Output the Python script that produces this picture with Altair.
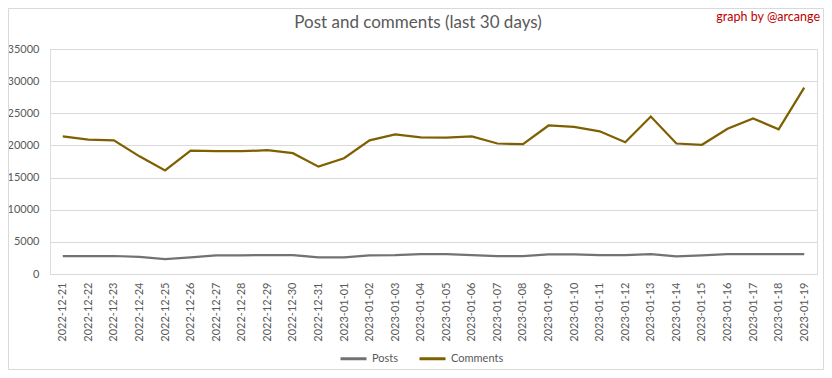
import altair as alt
import pandas as pd

dates = ["2022-12-21", "2022-12-22", "2022-12-23", "2022-12-24", "2022-12-25", "2022-12-26",
         "2022-12-27", "2022-12-28", "2022-12-29", "2022-12-30", "2022-12-31", "2023-01-01",
         "2023-01-02", "2023-01-03", "2023-01-04", "2023-01-05", "2023-01-06", "2023-01-07",
         "2023-01-08", "2023-01-09", "2023-01-10", "2023-01-11", "2023-01-12", "2023-01-13",
         "2023-01-14", "2023-01-15", "2023-01-16", "2023-01-17", "2023-01-18", "2023-01-19"]

posts = [2800, 2800, 2800, 2650, 2300, 2600, 2900, 2900, 2950, 2950, 2600, 2600,
         2900, 2950, 3100, 3100, 2950, 2800, 2800, 3050, 3050, 2950, 2950, 3100,
         2750, 2900, 3100, 3100, 3100, 3100]

comments = [21400, 20900, 20800, 18300, 16100, 19200, 19100, 19100, 19250, 18800, 16700, 18000,
            20800, 21700, 21250, 21200, 21400, 20300, 20200, 23100, 22900, 22200, 20500, 24500,
            20300, 20100, 22600, 24200, 22500, 29000]

series = ["Posts", "Comments"]
colors = ["#767171", "#7f6000"]
y_ticks = [0, 5000, 10000, 15000, 20000, 25000, 30000, 35000]
title_text = "Post and comments (last 30 days)"
credit_text = "graph by @arcange"

rows = []
for d, p, c in zip(dates, posts, comments):
    rows.append({"date": d, "series": "Posts", "value": p})
    rows.append({"date": d, "series": "Comments", "value": c})
df = pd.DataFrame(rows)

FONT = "Lato, sans-serif"
TXT = "#595959"

W, H = 767, 225
PL, PT = 42, 41

lines = alt.Chart(df).mark_line(strokeWidth=2.25).encode(
    x=alt.X("date:O", sort=dates, title=None,
            axis=alt.Axis(labelAngle=270, labelAlign="right", labelBaseline="middle",
                          labelPadding=8, ticks=False, domain=False, grid=False,
                          labelFont=FONT, labelFontSize=11, labelColor=TXT)),
    y=alt.Y("value:Q", title=None, scale=alt.Scale(domain=[0, 35000], nice=False),
            axis=alt.Axis(values=y_ticks, format="d", ticks=False, domain=False,
                          labelPadding=11, labelFont=FONT, labelFontSize=11, labelColor=TXT,
                          gridColor="#d9d9d9", gridWidth=1)),
    color=alt.Color("series:N", sort=series,
                    scale=alt.Scale(domain=series, range=colors),
                    legend=alt.Legend(title=None, orient="none", direction="horizontal",
                                      legendX=289, legendY=295,
                                      symbolType="stroke", symbolSize=676,
                                      symbolStrokeWidth=3, labelFont=FONT, labelFontSize=11,
                                      labelColor=TXT, labelOffset=4, columnPadding=14)),
    detail="series:N",
)

title = alt.Chart(alt.Data(values=[{"t": title_text}])).mark_text(
    align="center", baseline="alphabetic", font=FONT, fontSize=17, color=TXT
).encode(text="t:N", x=alt.value(368), y=alt.value(-21))

credit = alt.Chart(alt.Data(values=[{"t": credit_text}])).mark_text(
    align="right", baseline="middle", font=FONT, fontSize=12.5, color="#c00000"
).encode(text="t:N", x=alt.value(770), y=alt.value(-32))

border = alt.Chart(alt.Data(values=[{}])).mark_rect(
    fill=None, stroke="#d9d9d9", strokeWidth=1
).encode(x=alt.value(-PL + 0.5), x2=alt.value(W + 6.5), y=alt.value(-PT + 0.5), y2=alt.value(H + 95.5))

chart = alt.layer(border, lines, title, credit).properties(
    width=W, height=H,
    autosize=alt.AutoSizeParams(type="none"),
    padding={"left": PL, "top": PT, "right": 7, "bottom": 96},
).configure_view(stroke=None).configure(background="white")

chart.save("out.html", embed_options={"renderer": "svg", "actions": False})
